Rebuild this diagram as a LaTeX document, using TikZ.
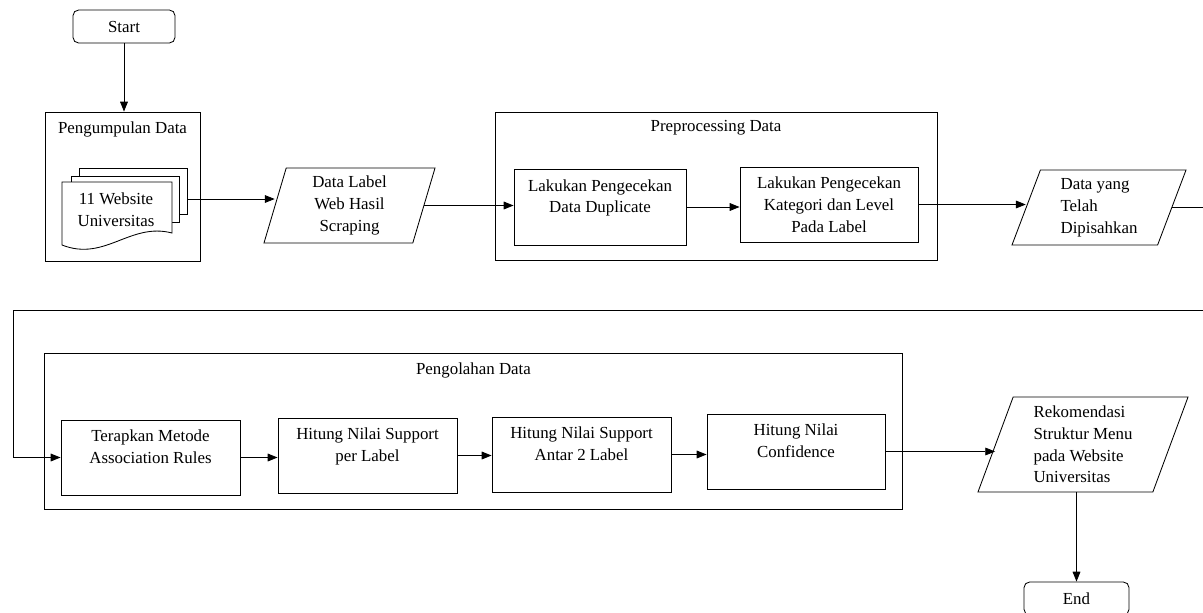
\documentclass[tikz,border=0pt]{standalone}
\usepackage{fontspec}
\setmainfont{Liberation Serif}
\usepackage{tikz}
\usetikzlibrary{positioning}
\usetikzlibrary{shapes.geometric}
\usetikzlibrary{arrows.meta}
\tikzset{>={Triangle[length=7pt,width=5.5pt]}}
\tikzstyle{term}=[draw,rounded corners=4pt,minimum width=2.55cm,minimum height=0.825cm]
\tikzstyle{proc}=[draw,align=center,inner sep=2pt,minimum width=4.475cm,minimum height=1.875cm]
\tikzstyle{group}=[draw,inner sep=0pt]
\tikzstyle{io}=[draw,trapezium,trapezium stretches body,inner sep=2pt,minimum height=1.875cm]
\tikzstyle{flow}=[->,line width=0.6pt]

\begin{document}
\begin{tikzpicture}[x=0.025cm,y=-0.025cm,font=\fontsize{12}{15.5}\selectfont,line width=0.6pt]
\useasboundingbox (0,0) rectangle (1203,612);

% Start
\node[term] (start) at (124,26.5) {Start};

% Pengumpulan Data
\node[group,minimum width=3.875cm,minimum height=3.725cm] (grpKumpul) at (122.5,186.5) {};
\node (tKumpul) at (122.5,129) {Pengumpulan Data};
\draw[fill=white] (79,168) rectangle (187,214);
\draw[fill=white] (71,176) rectangle (179,222);
\draw[fill=white] (62,182) -- (172,182) -- (172,233) .. controls (130,222) and (105,262) .. (62,245) -- cycle;
\node[align=center] (docs) at (116,210) {11 Website\\Universitas};
\coordinate (docsR) at (187,199);

% Data Label
\node[io,trapezium left angle=71,trapezium right angle=109,minimum width=4.275cm,align=center] (dataLabel) at (349.5,205.5) {Data Label\\Web Hasil\\Scraping};

% Preprocessing Data
\node[group,minimum width=11.05cm,minimum height=3.7cm] (grpPre) at (716,186) {};
\node (tPre) at (716,128) {Preprocessing Data};
\node[proc,minimum width=4.3cm,minimum height=1.9cm] (dup) at (600,207) {Lakukan Pengecekan\\Data Duplicate\\\mbox{}};
\node[proc,minimum width=4.45cm] (kat) at (829,204.5) {Lakukan Pengecekan\\Kategori dan Level\\Pada Label};

% Data yang Telah Dipisahkan
\node[io,trapezium left angle=66,trapezium right angle=114,minimum width=4.35cm,align=left] (dataYang) at (1099,207.5) {Data yang\\Telah\\Dipisahkan};

% Pengolahan Data
\node[group,minimum width=21.425cm,minimum height=3.9cm] (grpOlah) at (473.5,431) {};
\node (tOlah) at (473.5,370) {Pengolahan Data};
\node[proc] (terapkan) at (150.5,457.5) {Terapkan Metode\\Association Rules\\\mbox{}};
\node[proc] (supLabel) at (367.5,455.5) {Hitung Nilai Support\\per Label\\\mbox{}};
\node[proc] (supAntar) at (581.5,454.5) {Hitung Nilai Support\\Antar 2 Label\\\mbox{}};
\node[proc,minimum width=4.45cm] (conf) at (796,451.5) {Hitung Nilai\\Confidence\\\mbox{}};

% Rekomendasi
\node[io,trapezium left angle=67,trapezium right angle=113,minimum width=5.25cm,minimum height=2.375cm,align=left] (rekom) at (1083,444.5) {Rekomendasi\\Struktur Menu\\pada Website\\Universitas};

% End
\node[term,minimum width=2.625cm] (end) at (1076.5,598.5) {End};

% Arrows
\coordinate (loopR) at (1208,310);
\coordinate (loopL) at (13,310);
\draw[flow] (start) -- (start |- grpKumpul.north);
\draw[flow] (docsR) -- (docsR -| dataLabel.west);
\draw[flow] (dataLabel.east) -- (dataLabel.east -| dup.west);
\draw[flow] (dup.east) -- (dup.east -| kat.west);
\draw[flow] (kat.east) -- (kat.east -| dataYang.west);
\draw[flow] (dataYang.east) -| (loopR) -- (loopL) |- (terapkan.west);
\draw[flow] (terapkan.east) -- (terapkan.east -| supLabel.west);
\draw[flow] (supLabel.east) -- (supLabel.east -| supAntar.west);
\draw[flow] (supAntar.east) -- (supAntar.east -| conf.west);
\draw[flow] (conf.east) -- (conf.east -| rekom.west);
\draw[flow] (end.north |- rekom.south) -- (end.north);

\end{tikzpicture}
\end{document}
